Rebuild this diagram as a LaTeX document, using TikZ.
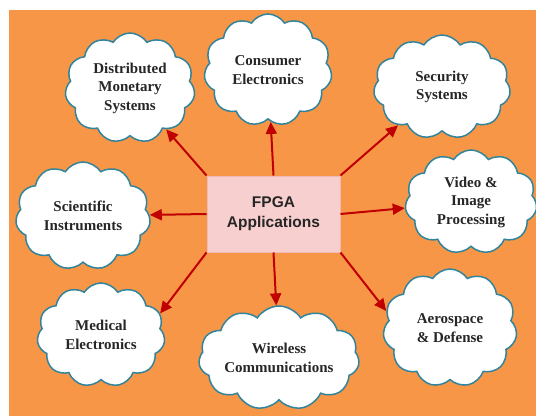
\documentclass[tikz,border=0pt]{standalone}
\usepackage{fontspec}
\setmainfont{Liberation Serif}
\newfontfamily\boxfont{Liberation Sans}
\usetikzlibrary{shapes.symbols,arrows.meta}

\definecolor{bgorange}{HTML}{F79646}
\definecolor{cloudline}{HTML}{31849B}
\definecolor{boxpink}{HTML}{F8CFCF}
\definecolor{boxline}{HTML}{F2B8B8}
\definecolor{arrred}{HTML}{C00000}
\definecolor{inkgray}{HTML}{262626}

\tikzset{
  idea/.style={cloud, cloud puffs=11, cloud puff arc=115, draw=cloudline,
    line width=1.5pt, fill=white, text=inkgray, align=center, inner sep=0pt,
    font=\fontsize{15}{18.5}\selectfont\bfseries},
  appbox/.style={rectangle, draw=boxline, line width=1pt, fill=boxpink,
    minimum width=133pt, minimum height=76pt, align=center, text=inkgray,
    font=\boxfont\fontsize{15.5}{20}\selectfont\bfseries},
  arr/.style={draw=arrred, line width=2pt, -{Triangle[length=12pt,width=11pt]}},
}

\begin{document}
\begin{tikzpicture}[x=1pt,y=1pt]
\useasboundingbox (0,0) rectangle (536,416);
\fill[bgorange] (9,0) rectangle (536,406);

\node[appbox] (app) at (273.5,202) {FPGA\\Applications};

\node[idea, aspect=1.18, minimum width=130pt, minimum height=110pt] (dms) at (130,328) {Distributed\\Monetary\\Systems};
\node[idea, aspect=1.14, minimum width=128pt, minimum height=112pt] (con) at (268,346) {Consumer\\Electronics};
\node[idea, aspect=1.32, minimum width=137pt, minimum height=104pt] (sec) at (442,329) {Security\\Systems};
\node[idea, aspect=1.27, minimum width=132pt, minimum height=104pt] (vid) at (471,214) {Video \&\\Image\\Processing};
\node[idea, aspect=1.25, minimum width=135pt, minimum height=108pt] (sci) at (83,200) {Scientific\\Instruments};
\node[idea, aspect=1.23, minimum width=128pt, minimum height=104pt] (med) at (101,81) {Medical\\Electronics};
\node[idea, aspect=1.9, minimum width=152pt, minimum height=104pt] (wir) at (279,58) {Wireless\\Communications};
\node[idea, aspect=1.14, minimum width=134pt, minimum height=118pt] (aer) at (450,88) {Aerospace\\\& Defense};

\draw[arr] (app.north west) -- (dms);
\draw[arr] (app.north) -- (con);
\draw[arr] (app.north east) -- (sec);
\draw[arr] (app.east) -- (vid);
\draw[arr] (app.west) -- (sci);
\draw[arr] (app.south west) -- (med.20);
\draw[arr] (app.south) -- (wir);
\draw[arr] (app.south east) -- (aer.165);
\end{tikzpicture}
\end{document}
